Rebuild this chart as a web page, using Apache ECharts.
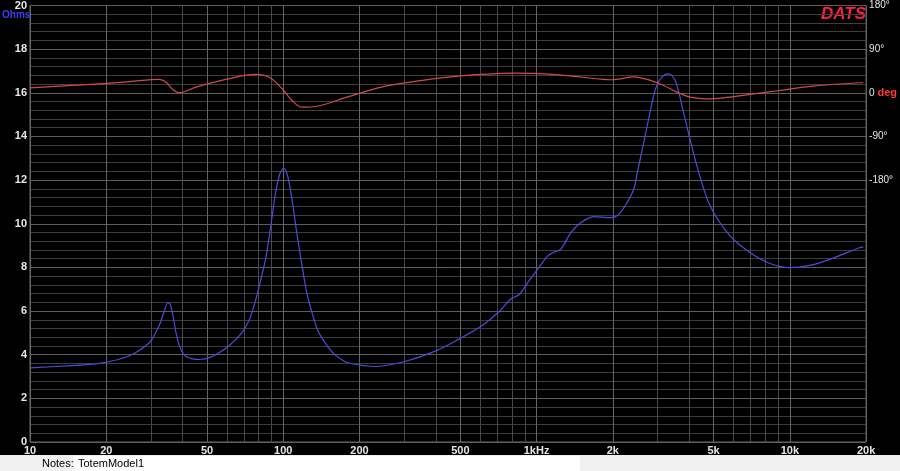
<!DOCTYPE html>
<html><head><meta charset="utf-8">
<script src="https://cdn.jsdelivr.net/npm/echarts@6/dist/echarts.min.js"></script>
<style>html,body{margin:0;padding:0;background:#000;} #c{width:900px;height:471px;}</style>
</head><body><div id="c"></div>
<script>
// Impedance magnitude (Ohms) vs frequency (Hz)
const impFreq = [10, 14, 18.8, 24.7, 29.6, 31, 32.4, 33.9, 35.0, 35.8, 36.8, 37.8, 38.8, 40, 41.3, 43.5, 46.6, 52, 59.3, 65, 70, 74, 77.8, 81, 85.2, 89, 93.2, 97, 100.5, 104, 108.3, 113, 118.7, 124, 129.9, 137, 146.4, 158, 170.4, 180.8, 230, 302, 396, 504, 604, 703, 793, 855, 922, 1009, 1105, 1174, 1246, 1366, 1494, 1686, 1960, 2100, 2276, 2421, 2494, 2650, 2900, 3000, 3124, 3289, 3400, 3523, 3650, 3801, 4294, 4844, 5803, 6954, 8337, 9985, 11970, 14350, 18800, 19500];
const impOhm  = [3.40, 3.49, 3.60, 3.95, 4.55, 4.90, 5.35, 6.00, 6.38, 6.30, 5.70, 4.95, 4.45, 4.10, 3.92, 3.82, 3.78, 3.90, 4.30, 4.70, 5.15, 5.70, 6.50, 7.30, 8.40, 9.80, 11.40, 12.30, 12.54, 12.20, 11.10, 9.60, 8.06, 6.80, 5.92, 5.10, 4.54, 4.05, 3.77, 3.62, 3.46, 3.69, 4.15, 4.77, 5.30, 5.92, 6.56, 6.76, 7.30, 7.91, 8.52, 8.70, 8.83, 9.59, 10.05, 10.33, 10.28, 10.40, 10.97, 11.59, 12.30, 13.73, 15.88, 16.40, 16.72, 16.87, 16.82, 16.57, 16.00, 15.11, 12.66, 10.82, 9.44, 8.68, 8.18, 7.99, 8.09, 8.37, 8.90, 8.93];
// Phase (degrees) vs frequency (Hz)
const phaseFreq = [10, 18.8, 24.7, 30, 32.4, 34.4, 36.6, 38.8, 45.2, 59.3, 77.8, 87.7, 99, 108.3, 118.7, 133.8, 180.8, 244, 331, 447, 604, 817, 979, 1285, 1737, 1960, 2100, 2421, 2812, 3176, 3581, 4040, 4697, 5464, 6747, 9120, 12330, 18800, 19500];
const phaseDeg  = [10.3, 18.6, 23, 27, 27.6, 22.1, 6.9, 0, 11.7, 27.6, 37.9, 32.4, 8.3, -15.9, -29.7, -28.3, -8, 11.7, 23.4, 32.4, 37.9, 40.7, 40.0, 35.9, 29.0, 26.9, 28, 33, 25.5, 15.2, 1.4, -8.9, -12.4, -10.3, -4.1, 4.8, 13.9, 20.7, 21.2];
// Axis ticks
const xTickValues = [10, 20, 50, 100, 200, 500, 1000, 2000, 5000, 10000, 20000];
const xTickLabels = ['10', '20', '50', '100', '200', '500', '1kHz', '2k', '5k', '10k', '20k'];
const phaseTickValues = [180, 90, 0, -90, -180];
const phaseTickLabels = ['180°', '90°', '0 deg', '-90°', '-180°'];
const gridFreqs = [10,20,30,40,50,60,70,80,90,100,200,300,400,500,600,700,800,900,1000,2000,3000,4000,5000,6000,7000,8000,9000,10000,20000];

const L = Math.log10;
const gridLogs = gridFreqs.map(L);
const vColors = gridFreqs.map(f => xTickValues.indexOf(f) >= 0 ? '#656565' : '#4a4a4a');

const chart = echarts.init(document.getElementById('c'), null, {renderer: 'canvas'});
chart.setOption({
  backgroundColor: '#000',
  animation: false,
  grid: {left: 30, right: 30, top: 5, bottom: 29, show: true, borderColor: '#6a6a6a', borderWidth: 1, backgroundColor: 'transparent'},
  xAxis: {
    type: 'value', min: L(10), max: L(20000),
    axisLine: {show: false},
    axisTick: {show: false, customValues: gridLogs},
    splitLine: {show: true, lineStyle: {color: vColors, width: 1}},
    axisLabel: {
      customValues: xTickValues.map(L),
      margin: 3, color: '#e6e6e6', fontSize: 11, fontWeight: 'bold', fontFamily: 'Liberation Sans, Arial',
      formatter: v => { const i = xTickValues.findIndex(t => Math.abs(L(t) - v) < 1e-6); return i >= 0 ? xTickLabels[i] : ''; }
    }
  },
  yAxis: [{
    type: 'value', min: 0, max: 20, interval: 0.4, position: 'left',
    axisLine: {show: false}, axisTick: {show: false},
    splitLine: {show: true, lineStyle: {color: ['#5e5e5e', '#3e3e3e', '#3e3e3e', '#3e3e3e', '#3e3e3e'], width: 1}},
    axisLabel: {
      margin: 3, color: '#e6e6e6', fontSize: 11, fontWeight: 'bold', fontFamily: 'Liberation Sans, Arial',
      formatter: v => Math.abs(v / 2 - Math.round(v / 2)) < 1e-6 ? String(Math.round(v)) : ''
    }
  }, {
    type: 'value', min: -720, max: 180, interval: 90, position: 'right',
    axisLine: {show: false}, axisTick: {show: false}, splitLine: {show: false},
    axisLabel: {
      margin: 3, color: '#e6e6e6', fontSize: 10, fontFamily: 'Liberation Sans, Arial',
      formatter: v => {
        const i = phaseTickValues.indexOf(Math.round(v));
        if (i < 0) return '';
        if (phaseTickValues[i] === 0) return '{w|0} {r|deg}';
        return phaseTickLabels[i];
      },
      rich: {
        w: {color: '#e6e6e6', fontSize: 10, fontFamily: 'Liberation Sans, Arial'},
        r: {color: '#ff3a3a', fontSize: 11, fontWeight: 'bold', fontFamily: 'Liberation Sans, Arial'}
      }
    }
  }],
  series: [{
    name: 'Impedance', type: 'line', yAxisIndex: 0, smooth: 0.3, showSymbol: false,
    lineStyle: {color: '#4c4cd8', width: 1.2},
    data: impFreq.map((f, i) => [L(f), impOhm[i]])
  }, {
    name: 'Phase', type: 'line', yAxisIndex: 1, smooth: 0.35, showSymbol: false,
    lineStyle: {color: '#d04a4a', width: 1.2},
    data: phaseFreq.map((f, i) => [L(f), phaseDeg[i]])
  }],
  graphic: [
    {type: 'text', left: 2, top: 10, style: {text: 'Ohms', fill: '#3c3cff', font: 'bold 10px "Liberation Sans", Arial'}},
    {type: 'text', x: 866, y: 6, style: {text: 'DATS', fill: '#ff1f44', align: 'right', font: 'italic bold 17px "Liberation Sans", Arial'}},
    {type: 'rect', shape: {x: 0, y: 455, width: 900, height: 16}, style: {fill: '#f0f0f0'}},
    {type: 'rect', shape: {x: 74, y: 456, width: 506, height: 15}, style: {fill: '#ffffff'}},
    {type: 'text', x: 42, y: 458, style: {text: 'Notes:', fill: '#000', font: '11px "Liberation Sans", Arial'}},
    {type: 'text', x: 78, y: 458, style: {text: 'TotemModel1', fill: '#000', font: '11px "Liberation Sans", Arial'}}
  ]
});
</script></body></html>
